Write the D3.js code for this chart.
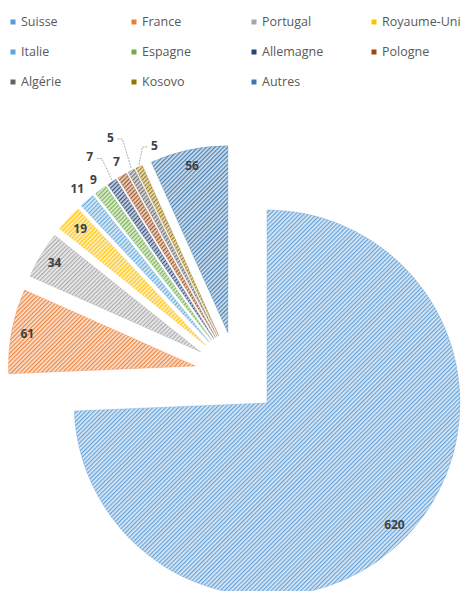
<!DOCTYPE html>
<html><head><meta charset="utf-8">
<script src="https://cdn.jsdelivr.net/npm/d3@7"></script>
<style>html,body{margin:0;padding:0;background:#fff;}svg{display:block;}</style>
</head><body>
<svg id="chart" width="465" height="591"></svg>
<script>
const categories = ["Suisse","France","Portugal","Royaume-Uni","Italie","Espagne","Allemagne","Pologne","Algérie","Kosovo","Autres"];
const values = [620,61,34,19,11,9,7,7,5,5,56];
const colors = ["#5B9BD5","#ED7D31","#A5A5A5","#FFC000","#5DA5DA","#70AD47","#264478","#9E480E","#636363","#997300","#3A78B0"];

// layout (not data)
const center = {x: 236.7, y: 373.9};
const explode = 42;
const radius = 187, radiusMain = 193;
const insideRatio = 0.915;
// outside label placement for small slices: distance from slice apex, angle shift (deg), leader line
const outsideLabels = {4:{d:202,da:0,lead:false},5:{d:199,da:0,lead:false},6:{d:220,da:-1.3,lead:true},
  7:{d:202,da:0.6,lead:false},8:{d:226,da:-0.8,lead:true},9:{d:201,da:6.6,lead:true}};

const svg = d3.select("#chart");
const defs = svg.append("defs");
colors.forEach((c,i)=>{
  const light = d3.interpolateRgb(c,"#ffffff")(0.8);
  const p = defs.append("pattern").attr("id","pat"+i).attr("patternUnits","userSpaceOnUse")
    .attr("width",3).attr("height",3).attr("patternTransform","rotate(45)");
  p.append("rect").attr("width",3).attr("height",3).attr("fill",light);
  p.append("rect").attr("width",1.3).attr("height",3).attr("fill",c).attr("fill-opacity",0.9);
});

// legend
const legendCols = [13,134,254,374];
const legendRows = [22,52,82];
const lg = svg.append("g");
categories.forEach((name,i)=>{
  const x = legendCols[i%4], y = legendRows[Math.floor(i/4)];
  const g = lg.append("g").attr("transform",`translate(${x},${y})`);
  g.append("rect").attr("x",-2.5).attr("y",-2.5).attr("width",5).attr("height",5).attr("fill",colors[i]);
  g.append("text").attr("x",8).attr("y",0).attr("dy","0.35em")
    .attr("font-family","'Open Sans', sans-serif").attr("font-size",12.5).attr("fill","#595959").text(name);
});

const pie = d3.pie().sort(null).value(d=>d)(values);
const pg = svg.append("g");
pie.forEach((d,i)=>{
  const mid = (d.startAngle+d.endAngle)/2;
  const ax = center.x + explode*Math.sin(mid), ay = center.y - explode*Math.cos(mid);
  const r = i===0 ? radiusMain : radius;
  const arc = d3.arc().innerRadius(0).outerRadius(r);
  pg.append("path").attr("transform",`translate(${ax},${ay})`).attr("d",arc(d))
    .attr("fill",`url(#pat${i})`).attr("stroke",colors[i]).attr("stroke-width",0.6).attr("stroke-opacity",0.5);
  let lx, ly;
  if (outsideLabels[i]) {
    const o = outsideLabels[i];
    const a = mid + o.da*Math.PI/180;
    lx = ax + o.d*Math.sin(a); ly = ay - o.d*Math.cos(a);
    if (o.lead) {
      const tx = ax + r*Math.sin(mid), ty = ay - r*Math.cos(mid);
      const s = lx < tx ? 1 : -1;
      const x1 = lx + s*7, x2 = lx + s*12, yl = ly + 1.5;
      svg.append("polyline").attr("points",`${x1},${yl} ${x2},${yl} ${tx},${ty-2}`)
        .attr("fill","none").attr("stroke","#a6a6a6").attr("stroke-width",0.9).attr("stroke-dasharray","2,1");
    }
  } else {
    const dd = r*insideRatio;
    lx = ax + dd*Math.sin(mid); ly = ay - dd*Math.cos(mid);
  }
  svg.append("text").attr("x",lx).attr("y",ly).attr("dy","0.35em").attr("text-anchor","middle")
    .attr("font-family","'Open Sans', sans-serif").attr("font-weight","bold").attr("font-size",12)
    .attr("fill","#404040").text(values[i]);
});
</script>
</body></html>
